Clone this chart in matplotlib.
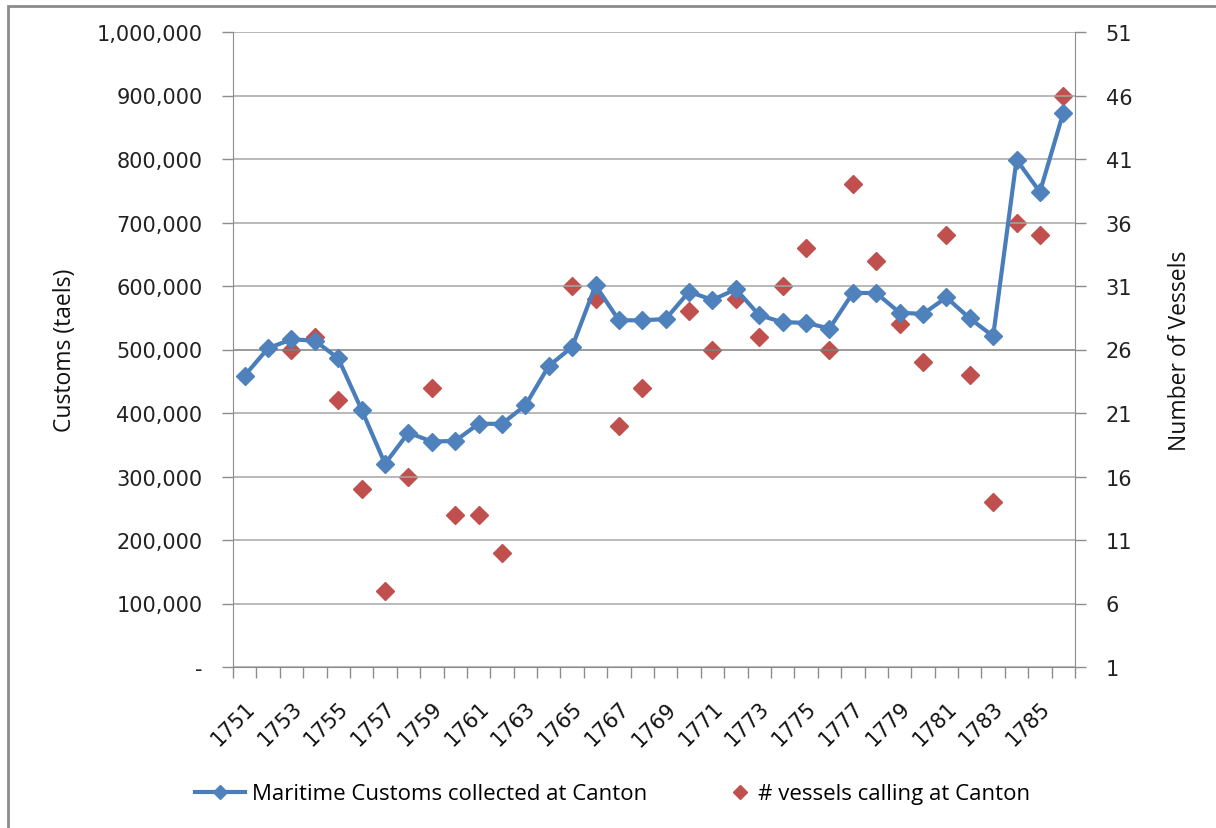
import numpy as np
import matplotlib.pyplot as plt
from matplotlib.patches import Rectangle
from matplotlib.lines import Line2D
from matplotlib.ticker import FuncFormatter

# data
years = list(range(1751, 1787))
customs = [459000, 502000, 516000, 514000, 486000, 405000, 320000, 369000, 355000, 356000,
           383000, 383000, 412000, 474000, 504000, 601000, 546000, 546000, 548000, 591000,
           578000, 595000, 554000, 543000, 542000, 533000, 589000, 589000, 558000, 556000,
           582000, 549000, 521000, 799000, 748000, 873000]
vessels = [None, None, 26, 27, 22, 15, 7, 16, 23, 13,
           13, 10, None, None, 31, 30, 20, 23, None, 29,
           26, 30, 27, 31, 34, 26, 39, 33, 28, 25,
           35, 24, 14, 36, 35, 46]

blue = '#4A7EBB'
red = '#C0504D'
grid_col = '#A6A6A6'
axis_col = '#8C8C8C'
num_font = 'DejaVu Sans'
txt_font = 'Open Sans'

x = np.arange(len(years))
vessels_arr = np.array([np.nan if v is None else v for v in vessels], dtype=float)

fig = plt.figure(figsize=(12.16, 8.29), dpi=100)
# outer chart frame (cropped on right/bottom like the reference)
fig.patches.append(Rectangle((8 / 1216, -0.05), 1.1, 1 - 7 / 829 + 0.05,
                             transform=fig.transFigure, fill=False,
                             edgecolor='#8C8C8C', linewidth=2))

ax = fig.add_axes([233 / 1216, 1 - 668 / 829, (1075 - 233) / 1216, (668 - 33) / 829])
ax2 = ax.twinx()

ax.set_xlim(-0.5, len(years) - 0.5)
ax.set_ylim(0, 1000000)
ax2.set_ylim(1, 51)

# gridlines
for v in range(0, 1000001, 100000):
    col = '#808080' if v == 500000 else grid_col
    ax.axhline(v, color=col, linewidth=1.1, zorder=0)

ax.plot(x, customs, color=blue, linewidth=3, marker='D', markersize=9,
        markerfacecolor='#4F81BD', markeredgecolor='#4F81BD', zorder=3)
ax2.plot(x, vessels_arr, linestyle='none', marker='D', markersize=9,
         markerfacecolor=red, markeredgecolor=red, zorder=3)
ax.set_zorder(ax2.get_zorder() + 1)
ax.patch.set_visible(False)

# left axis
ax.set_yticks(range(0, 1000001, 100000))
ax.yaxis.set_major_formatter(FuncFormatter(lambda v, p: '-' if v == 0 else f'{int(v):,}'))
ax2.set_yticks(range(1, 52, 5))

for a in (ax, ax2):
    for s in a.spines.values():
        s.set_visible(False)
    a.tick_params(axis='y', length=8, width=1, color=axis_col, labelsize=15,
                  labelcolor='#222222', pad=14)
    for lab in a.get_yticklabels():
        lab.set_family(num_font)

ax.spines['left'].set_visible(True)
ax.spines['left'].set_color(axis_col)
ax.spines['bottom'].set_visible(True)
ax.spines['bottom'].set_color(axis_col)
ax2.spines['right'].set_visible(True)
ax2.spines['right'].set_color(axis_col)

# category axis: ticks between categories, labels every other year
ax.set_xticks(np.arange(-0.5, len(years), 1.0))
ax.set_xticklabels([])
ax.tick_params(axis='x', length=8, width=1, color=axis_col)
ax.set_xticks(x[::2], minor=True)
ax.set_xticklabels([str(y) for y in years[::2]], minor=True, rotation=45,
                   ha='right', rotation_mode='anchor', fontsize=15,
                   family=num_font, color='#111111')
ax.tick_params(axis='x', which='minor', length=0, pad=22)

ax.set_ylabel('Customs (taels)', fontsize=16.5, family=txt_font, labelpad=14,
              color='#111111')
ax2.set_ylabel('Number of Vessels', fontsize=16.5, family=txt_font, labelpad=26,
               color='#111111')

# legend (two pieces so the entries sit where they do in the reference)
leg_y = 1 - 795 / 829
h1 = Line2D([], [], color=blue, linewidth=3, marker='D', markersize=7,
            markerfacecolor='#4F81BD', markeredgecolor='#4F81BD')
h2 = Line2D([], [], linestyle='none', marker='D', markersize=7,
            markerfacecolor=red, markeredgecolor=red)
leg1 = fig.legend([h1], ['Maritime Customs collected at Canton'], loc='center left',
                  bbox_to_anchor=(195 / 1216, leg_y), frameon=False, borderpad=0,
                  borderaxespad=0, prop={'family': txt_font, 'size': 16},
                  handlelength=2.25, handletextpad=0.3)
leg2 = fig.legend([h2], ['# vessels calling at Canton'], loc='center left',
                  bbox_to_anchor=(729 / 1216, leg_y), frameon=False, borderpad=0,
                  borderaxespad=0, prop={'family': txt_font, 'size': 16},
                  handlelength=1.0, handletextpad=0.3)

fig.savefig('out.png', dpi=100)
